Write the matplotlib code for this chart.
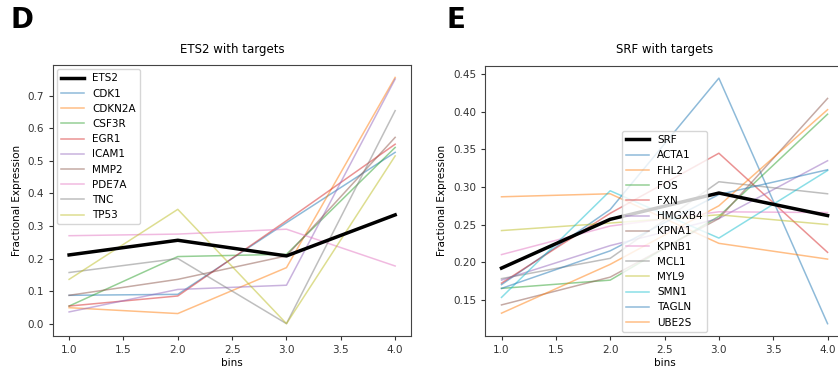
import matplotlib
matplotlib.use("Agg")
import matplotlib.pyplot as plt

bins = [1.0, 2.0, 3.0, 4.0]

# ETS2 panel
ets2 = [0.211, 0.256, 0.208, 0.334]
ets2_targets = ["CDK1", "CDKN2A", "CSF3R", "EGR1", "ICAM1", "MMP2", "PDE7A", "TNC", "TP53"]
ets2_values = [
    [0.087, 0.090, 0.310, 0.526],  # CDK1
    [0.049, 0.031, 0.172, 0.756],  # CDKN2A
    [0.054, 0.206, 0.213, 0.541],  # CSF3R
    [0.054, 0.085, 0.316, 0.551],  # EGR1
    [0.036, 0.105, 0.118, 0.751],  # ICAM1
    [0.087, 0.136, 0.208, 0.572],  # MMP2
    [0.270, 0.275, 0.290, 0.177],  # PDE7A
    [0.157, 0.200, 0.000, 0.654],  # TNC
    [0.136, 0.351, 0.000, 0.515],  # TP53
]

# SRF panel
srf = [0.192, 0.257, 0.292, 0.262]
srf_targets = ["ACTA1", "FHL2", "FOS", "FXN", "HMGXB4", "KPNA1", "KPNB1",
               "MCL1", "MYL9", "SMN1", "TAGLN", "UBE2S"]
srf_values = [
    [0.170, 0.270, 0.445, 0.118],  # ACTA1
    [0.287, 0.291, 0.225, 0.204],  # FHL2
    [0.165, 0.176, 0.261, 0.397],  # FOS
    [0.172, 0.265, 0.345, 0.213],  # FXN
    [0.176, 0.222, 0.258, 0.335],  # HMGXB4
    [0.143, 0.180, 0.258, 0.418],  # KPNA1
    [0.210, 0.248, 0.267, 0.266],  # KPNB1
    [0.178, 0.205, 0.307, 0.291],  # MCL1
    [0.242, 0.252, 0.263, 0.250],  # MYL9
    [0.153, 0.295, 0.232, 0.322],  # SMN1
    [0.165, 0.215, 0.290, 0.323],  # TAGLN
    [0.132, 0.197, 0.275, 0.403],  # UBE2S
]

fig = plt.figure(figsize=(8.38, 3.70), dpi=100)
ax1 = fig.add_axes([0.063, 0.092, 0.428, 0.732])
ax2 = fig.add_axes([0.579, 0.092, 0.428, 0.730])

colors = plt.rcParams['axes.prop_cycle'].by_key()['color']


def draw(ax, main_name, main, names, values, title, loc):
    ax.plot(bins, main, color='black', lw=2.5, label=main_name, zorder=5)
    for i, (name, vals) in enumerate(zip(names, values)):
        ax.plot(bins, vals, color=colors[i % len(colors)], lw=1.1, alpha=0.5, label=name)
    ax.set_title(title, fontsize=8.5, pad=9)
    ax.set_xlabel('bins', fontsize=7.5, labelpad=2)
    ax.set_ylabel('Fractional Expression', fontsize=7.5)
    ax.tick_params(labelsize=7.5, colors='#333333', length=3)
    for s in ax.spines.values():
        s.set_color('#444444')
    ax.legend(loc=loc, fontsize=7.5, handlelength=2.2, borderaxespad=0.4)


draw(ax1, 'ETS2', ets2, ets2_targets, ets2_values, 'ETS2 with targets', 'upper left')
draw(ax2, 'SRF', srf, srf_targets, srf_values, 'SRF with targets', 'lower center')
ax1.set_xticks([1.0, 1.5, 2.0, 2.5, 3.0, 3.5, 4.0])
ax2.set_xticks([1.0, 1.5, 2.0, 2.5, 3.0, 3.5, 4.0])

fig.text(0.012, 0.985, 'D', fontsize=20, fontweight='bold', va='top')
fig.text(0.533, 0.985, 'E', fontsize=20, fontweight='bold', va='top')

fig.savefig('out.png', dpi=100)
